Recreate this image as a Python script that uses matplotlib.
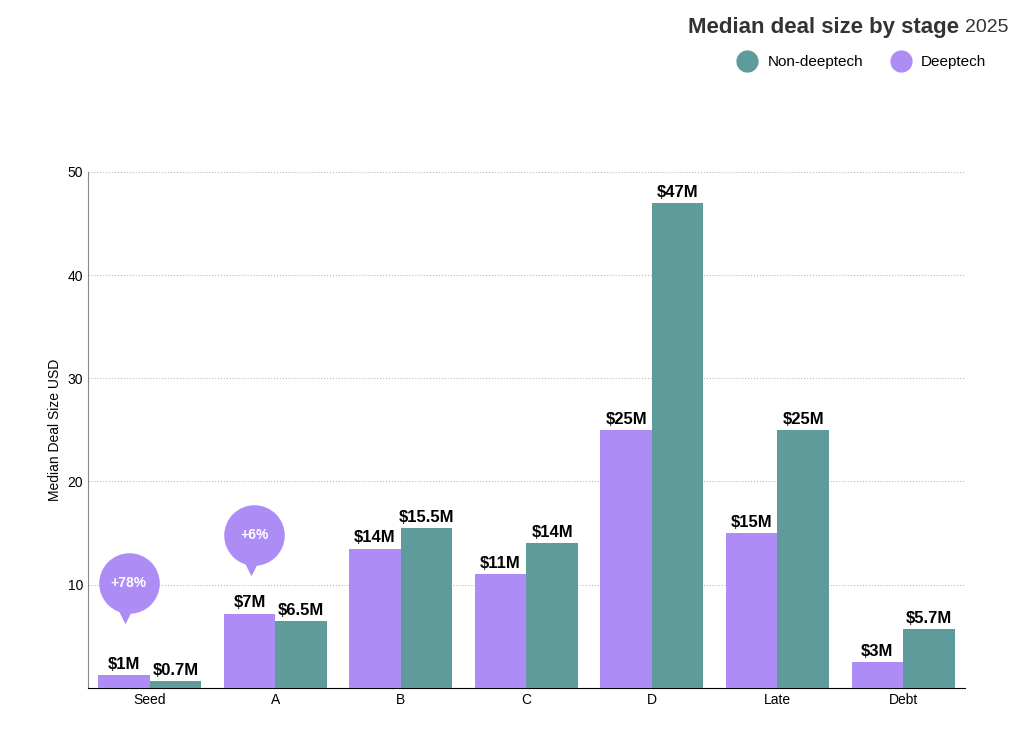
import numpy as np
import matplotlib
matplotlib.use("Agg")
import matplotlib.pyplot as plt
from matplotlib.lines import Line2D

stages = ["Seed", "A", "B", "C", "D", "Late", "Debt"]
deeptech = [1.2, 7.2, 13.5, 11, 25, 15, 2.5]
non_deeptech = [0.7, 6.5, 15.5, 14, 47, 25, 5.7]
deep_labels = ["$1M", "$7M", "$14M", "$11M", "$25M", "$15M", "$3M"]
non_labels = ["$0.7M", "$6.5M", "$15.5M", "$14M", "$47M", "$25M", "$5.7M"]
bubble_stage = [0, 1]
bubble_y = [10.2, 14.8]
bubble_text = ["+78%", "+6%"]

purple = "#AD8CF5"
teal = "#5E9B9A"

plt.rcParams['font.family'] = ['Liberation Sans', 'DejaVu Sans']
fig = plt.figure(figsize=(10.24, 7.31), dpi=100)
ax = fig.add_axes([0.086, 0.059, 0.856, 0.706])

x = np.arange(len(stages))
w = 0.41
ax.bar(x - w/2, deeptech, w, color=purple, zorder=3)
ax.bar(x + w/2, non_deeptech, w, color=teal, zorder=3)
for i in x:
    ax.text(i - w/2, deeptech[i] + 0.3, deep_labels[i].replace("$", r"\$"),
            ha="center", va="bottom", fontsize=12, fontweight="bold")
    ax.text(i + w/2, non_deeptech[i] + 0.3, non_labels[i].replace("$", r"\$"),
            ha="center", va="bottom", fontsize=12, fontweight="bold")

for s, y, t in zip(bubble_stage, bubble_y, bubble_text):
    bx = s - w/2 + 0.04
    ax.scatter([bx - 0.03], [y - 3.1], marker="v", s=160, color=purple, zorder=4, linewidths=0)
    ax.scatter([bx], [y], marker="o", s=1900, color=purple, zorder=5, linewidths=0)
    ax.text(bx, y, t, ha="center", va="center", color="white", fontsize=10,
            fontweight="bold", zorder=6)

ax.set_xlim(-0.49, 6.49)
ax.set_ylim(0, 50)
ax.set_yticks([10, 20, 30, 40, 50])
ax.set_xticks(x)
ax.set_xticklabels(stages, fontsize=10)
ax.tick_params(axis="y", labelsize=10, length=0)
ax.tick_params(axis="x", length=0)
ax.grid(axis="y", color="#bbbbbb", linestyle=":", linewidth=0.8, zorder=0)
for sp in ["top", "right"]:
    ax.spines[sp].set_visible(False)
ax.spines["left"].set_color("#888888")
ax.set_ylabel("Median Deal Size USD", fontsize=10)

yr = fig.text(1008/1024, 1 - 28/731, "2025", ha="right", va="center",
              fontsize=14, color="#333333")
fig.canvas.draw()
bb = yr.get_window_extent()
fig.text((bb.x0 - 5)/1024, 1 - 28/731, "Median deal size by stage", ha="right",
         va="center", fontsize=16, fontweight="bold", color="#333333")

handles = [Line2D([], [], marker="o", linestyle="", markersize=15, color=teal),
           Line2D([], [], marker="o", linestyle="", markersize=15, color=purple)]
fig.legend(handles, ["Non-deeptech", "Deeptech"], ncol=2, frameon=False,
           loc="center right", bbox_to_anchor=(1000/1024, 1 - 62/731),
           fontsize=11, handletextpad=0.3, columnspacing=1.5)

fig.savefig("out.png", dpi=100)
